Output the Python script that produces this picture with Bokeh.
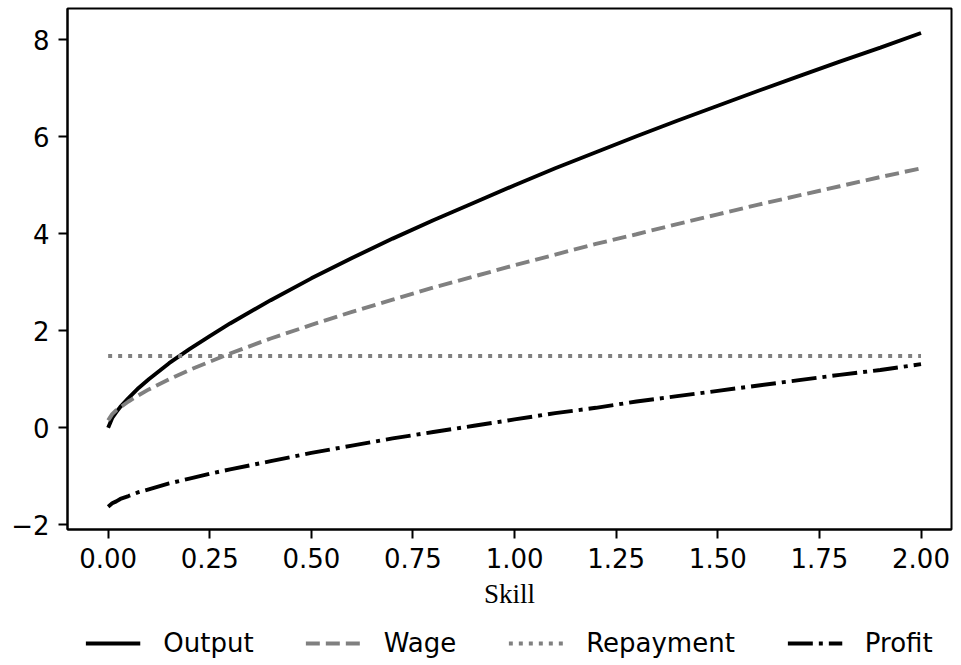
from bokeh.plotting import figure
from bokeh.layouts import column
from bokeh.models import Legend, LegendItem, FixedTicker, CustomJSTickFormatter, Range1d
from bokeh.embed import file_html
from bokeh.resources import INLINE

skill = [0.0, 0.01, 0.02, 0.03, 0.05, 0.075, 0.1, 0.15, 0.2, 0.25, 0.3, 0.4, 0.5, 0.6,
         0.7, 0.8, 0.9, 1.0, 1.1, 1.2, 1.3, 1.4, 1.5, 1.6, 1.7, 1.8, 1.9, 2.0]
output = [0.0, 0.20, 0.32, 0.43, 0.61, 0.82, 1.00, 1.33, 1.62, 1.89, 2.15, 2.63, 3.08, 3.50,
          3.90, 4.28, 4.64, 5.00, 5.35, 5.68, 6.01, 6.33, 6.64, 6.95, 7.25, 7.55, 7.84, 8.14]
wage = [0.15, 0.28, 0.36, 0.42, 0.54, 0.67, 0.79, 1.00, 1.19, 1.36, 1.53, 1.84, 2.12, 2.39,
        2.64, 2.89, 3.12, 3.35, 3.57, 3.79, 3.99, 4.20, 4.40, 4.60, 4.79, 4.98, 5.17, 5.35]
repayment_skill = [0.0, 2.0]
repayment = [1.48, 1.48]
profit = [-1.63, -1.56, -1.52, -1.47, -1.41, -1.33, -1.27, -1.15, -1.05, -0.95, -0.86, -0.69,
          -0.52, -0.37, -0.22, -0.09, 0.04, 0.17, 0.30, 0.41, 0.54, 0.65, 0.76, 0.87, 0.98,
          1.09, 1.19, 1.31]
series_names = ["Output", "Wage", "Repayment", "Profit"]

x_ticks = [0.0, 0.25, 0.5, 0.75, 1.0, 1.25, 1.5, 1.75, 2.0]
y_ticks = [-2, 0, 2, 4, 6, 8]

GRAY = "#808080"
LW = 3.9
styles = [
    dict(line_color="black", line_width=LW),
    dict(line_color=GRAY, line_width=LW, line_dash="14 6"),
    dict(line_color=GRAY, line_width=LW, line_dash="4 6"),
    dict(line_color="black", line_width=LW, line_dash="25 6 4 6"),
]
series = [(skill, output), (skill, wage), (repayment_skill, repayment), (skill, profit)]

p = figure(width=961, height=620, output_backend="svg", toolbar_location=None,
           x_range=Range1d(-0.1, 2.075), y_range=Range1d(-2.1, 8.646),
           min_border_left=67, min_border_right=10, min_border_top=8, min_border_bottom=91)

p.xgrid.visible = False
p.ygrid.visible = False
p.outline_line_color = "black"
p.outline_line_width = 2
p.background_fill_color = "white"

for (xs, ys), st in zip(series, styles):
    p.line(xs, ys, **st)

for ax in (p.xaxis[0], p.yaxis[0]):
    ax.axis_line_width = 2
    ax.axis_line_color = "black"
    ax.major_tick_line_width = 2
    ax.major_tick_line_color = "black"
    ax.major_tick_in = 0
    ax.major_tick_out = 9
    ax.minor_tick_line_color = None
    ax.major_label_text_font = "DejaVu Sans"
    ax.major_label_text_font_size = "26px"
    ax.major_label_text_color = "black"
    ax.major_label_standoff = 9

p.xaxis.ticker = FixedTicker(ticks=x_ticks)
p.yaxis.ticker = FixedTicker(ticks=y_ticks)
p.xaxis.formatter = CustomJSTickFormatter(code="return tick.toFixed(2);")
p.yaxis.formatter = CustomJSTickFormatter(
    code="return tick < 0 ? '\\u2212' + Math.abs(tick).toFixed(0) : tick.toFixed(0);")

p.xaxis.axis_label = "Skill"
p.xaxis.axis_label_text_font = "Liberation Serif"
p.xaxis.axis_label_text_font_size = "27px"
p.xaxis.axis_label_text_font_style = "normal"
p.xaxis.axis_label_text_color = "black"
p.xaxis.axis_label_standoff = 8

# legend strip below the chart (its lines lie outside its own visible range)
p2 = figure(width=961, height=45, output_backend="svg", toolbar_location=None,
            x_axis_type=None, y_axis_type=None,
            x_range=Range1d(10, 11), y_range=Range1d(10, 11),
            min_border_left=62, min_border_right=0, min_border_top=0, min_border_bottom=0)
p2.xgrid.visible = False
p2.ygrid.visible = False
p2.outline_line_color = None

items = []
for name, (xs, ys), st in zip(series_names, series, styles):
    r = p2.line(xs, ys, **st)
    items.append(LegendItem(label=name, renderers=[r]))

legend = Legend(items=items, orientation="horizontal", location="center")
legend.label_text_font = "DejaVu Sans"
legend.label_text_font_size = "26px"
legend.label_text_color = "black"
legend.glyph_width = 55
legend.glyph_height = 20
legend.label_standoff = 23
legend.spacing = 52
legend.border_line_color = None
legend.background_fill_alpha = 0
legend.padding = 0
legend.margin = 0
p2.add_layout(legend, "center")

open("out.html", "w").write(file_html(column(p, p2, spacing=0), INLINE))
